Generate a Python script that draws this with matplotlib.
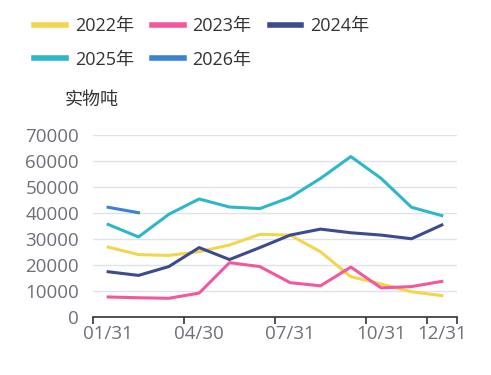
import matplotlib.pyplot as plt
import numpy as np

plt.rcParams['font.family'] = ['Open Sans', 'Noto Sans CJK SC', 'DejaVu Sans']

# month-end categories on the x axis
months = ['01/31', '02/28', '03/31', '04/30', '05/31', '06/30',
          '07/31', '08/31', '09/30', '10/31', '11/30', '12/31']

# stock levels, 实物吨
y2022 = [26900, 24000, 23700, 25100, 27700, 31800, 31500, 25100, 15500, 12700, 9700, 8200]
y2023 = [7700, 7400, 7200, 9200, 20900, 19400, 13200, 12000, 19200, 11200, 11700, 13700]
y2024 = [17400, 16000, 19400, 26700, 22100, 26700, 31500, 33800, 32400, 31500, 30100, 35400]
y2025 = [35600, 30800, 39500, 45400, 42300, 41700, 46000, 53300, 61700, 53300, 42200, 39000]
y2026 = [42200, 40100]

series = [('2022年', y2022, '#F2D64B'),
          ('2023年', y2023, '#F2589D'),
          ('2024年', y2024, '#3C4A8F'),
          ('2025年', y2025, '#2EB6CA'),
          ('2026年', y2026, '#3B82D2')]

fig = plt.figure(figsize=(4.91, 3.75), dpi=100)
ax = fig.add_axes([93 / 491, 58 / 375, 364 / 491, 182 / 375])

handles = {}
for name, vals, color in series:
    x = np.arange(len(vals))
    ln, = ax.plot(x, vals, color=color, lw=2.2, solid_joinstyle='round', label=name)
    handles[name] = ln

ax.set_xlim(-0.5, len(months) - 0.5)
ax.set_ylim(0, 70000)
ax.set_yticks(np.arange(0, 70001, 10000))
ax.grid(axis='y', color='#E0E3EC', lw=1)
ax.set_axisbelow(True)

# labels at category centres, ticks at category boundaries
shown = [0, 3, 6, 9, 11]
ax.set_xticks(shown)
ax.set_xticklabels([months[i] for i in shown])
ax.set_xticks([-0.5, 2.5, 5.5, 8.5, 10.5, 11.5], minor=True)
ax.tick_params(axis='x', which='major', length=0, pad=6, labelsize=13.5, labelcolor='#6E7079')
ax.tick_params(axis='x', which='minor', length=5, width=1.2, color='#333333', direction='out')
ax.tick_params(axis='y', length=0, pad=10, labelsize=13.5, labelcolor='#6E7079')

for s in ['top', 'right', 'left']:
    ax.spines[s].set_visible(False)
ax.spines['bottom'].set_color('#333333')
ax.spines['bottom'].set_linewidth(1.2)

order = ['2022年', '2025年', '2023年', '2026年', '2024年']
leg = fig.legend([handles[k] for k in order], order, ncol=3, loc='upper left',
                 bbox_to_anchor=(18 / 491, 1 - 1 / 375), frameon=False, fontsize=13,
                 handlelength=1.75, handletextpad=0.5, columnspacing=1.0,
                 labelspacing=0.85, labelcolor='#333333')
for h in leg.legend_handles:
    h.set_linewidth(4)

fig.text(65 / 491, 1 - 100 / 375, '实物吨', fontsize=13, color='#333333', va='center', ha='left')

fig.savefig('out.png', dpi=100)
